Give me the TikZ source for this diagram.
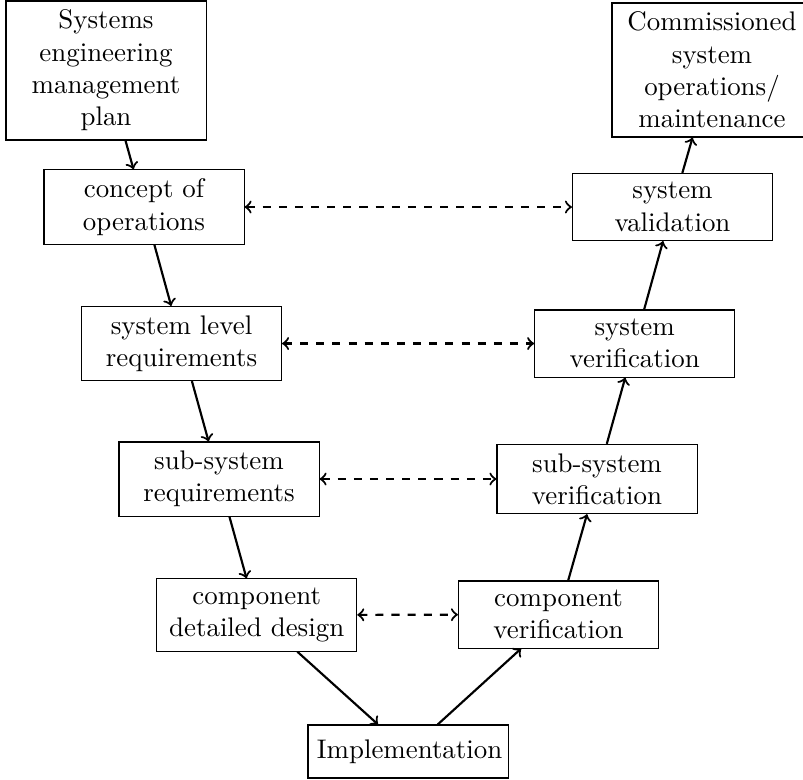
\documentclass[tikz,border=0pt]{standalone}
\begin{document}
\begin{tikzpicture}[x=0.3717pt,y=-0.3717pt,
  box/.style={draw, line width=0.4pt, text width=67.7pt, align=center, inner sep=0.3333em},
  flow/.style={->, thick},
  link/.style={<->, thick, dashed}]
\useasboundingbox (0,0) rectangle (803,779);
\clip (0,0) rectangle (803,779);
\node[box] (semp) at (106,70.5) {Systems\\engineering\\management\\plan};
\node[box] (comm) at (712,70) {Commissioned\\system\\operations/\\maintenance};
\node[box] (conops) at (144,207) {concept of\\operations};
\node[box] (sysval) at (672.5,207) {system\\validation};
\node[box] (sysreq) at (181.5,343.5) {system level\\requirements};
\node[box] (sysver) at (634.7,343.5) {system\\verification};
\node[box] (subreq) at (219,479) {sub-system\\requirements};
\node[box] (subver) at (597,479) {sub-system\\verification};
\node[box] (compdes) at (256.7,615) {component\\detailed design};
\node[box] (compver) at (558.5,614.5) {component\\verification};
\node[box, minimum height=19.7pt] (impl) at (408,751.5) {Implementation};
\draw[flow] (semp) -- (conops);
\draw[flow] (conops) -- (sysreq);
\draw[flow] (sysreq) -- (subreq);
\draw[flow] (subreq) -- (compdes);
\draw[flow] (compdes) -- (impl);
\draw[flow] (impl) -- (compver);
\draw[flow] (compver) -- (subver);
\draw[flow] (subver) -- (sysver);
\draw[flow] (sysver) -- (sysval);
\draw[flow] (sysval) -- (comm);
\draw[link] (conops) -- (sysval);
\draw[link] (sysreq) -- (sysver);
\draw[link] (subreq) -- (subver);
\draw[link] (compdes) -- (compver);
\end{tikzpicture}
\end{document}
